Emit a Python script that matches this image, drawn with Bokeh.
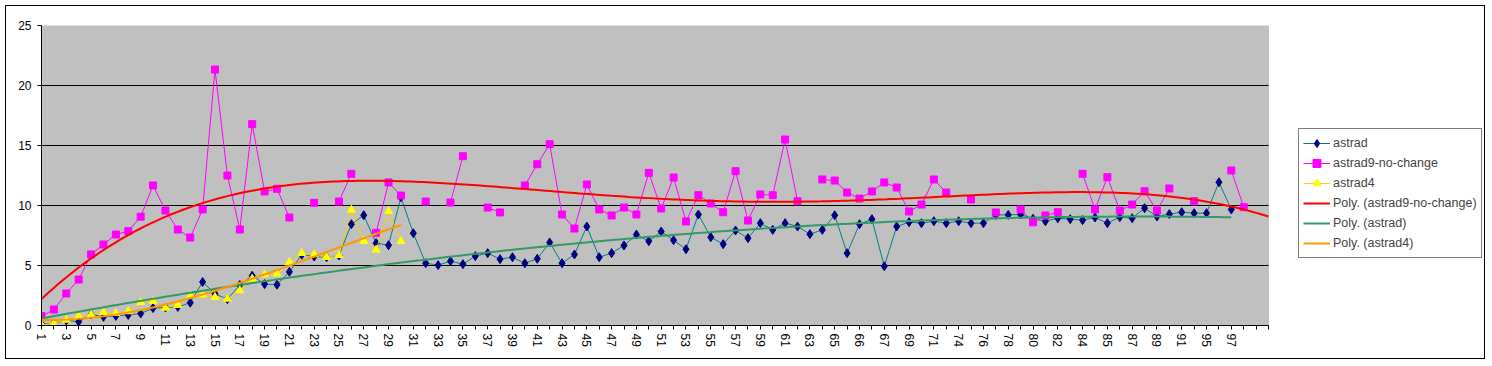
import numpy as np
from bokeh.plotting import figure
from bokeh.models import Range1d, FixedTicker, Legend, LegendItem, BoxAnnotation
from bokeh.embed import file_html
from bokeh.resources import INLINE

nan = float("nan")

# category labels (one per category slot, 100 slots)
categories = [str(k) for k in range(1, 64)] + [
    "64", "65", "65", "66", "66", "67", "68", "69", "70", "71", "73", "74", "75",
    "76", "77", "78", "79", "80", "81", "82", "83", "84", "84", "85", "86", "87",
    "88", "89", "90", "91", "93", "95", "96", "97", "98", "", ""]

astrad = [0.12, 0.18, 0.42, 0.32, 0.92, 0.72, 0.80, 0.88, 1.00, 1.45,
          1.50, 1.55, 1.90, 3.62, 2.64, 2.20, 3.38, 4.15, 3.45, 3.40,
          4.47, 5.90, 5.75, 5.69, 5.83, 8.44, 9.19, 6.86, 6.69, 10.69,
          7.69, 5.19, 5.03, 5.36, 5.11, 5.78, 6.03, 5.53, 5.69, 5.19,
          5.56, 6.92, 5.19, 5.92, 8.25, 5.69, 6.03, 6.67, 7.58, 7.03,
          7.83, 7.11, 6.36, 9.25, 7.36, 6.78, 7.92, 7.28, 8.53, 7.97,
          8.53, 8.25, 7.61, 7.97, 9.19, 6.03, 8.44, 8.86, 4.94, 8.25,
          8.61, 8.53, 8.69, 8.53, 8.69, 8.53, 8.53, 9.22, 9.22, 9.25,
          8.90, 8.69, 8.94, 8.86, 8.78, 9.00, 8.53, 9.03, 8.94, 9.78,
          9.08, 9.28, 9.44, 9.36, 9.36, 11.94, 9.67]

astrad9_no_change = [0.78, 1.33, 2.67, 3.83, 5.92, 6.75, 7.58, 7.86, 9.06, 11.67,
                     9.58, 8.00, 7.33, 9.67, 21.33, 12.50, 8.00, 16.78, 11.17, 11.39,
                     9.00, nan, 10.22, nan, 10.33, 12.64, nan, 7.72, 11.92, 10.83,
                     nan, 10.33, nan, 10.25, 14.11, nan, 9.83, 9.42, nan, 11.67,
                     13.44, 15.11, 9.25, 8.08, 11.75, 9.67, 9.17, 9.83, 9.25, 12.72,
                     9.75, 12.33, 8.67, 10.86, 10.17, 9.44, 12.86, 8.75, 10.92, 10.86,
                     15.50, 10.36, nan, 12.17, 12.08, 11.08, 10.58, 11.17, 11.92, 11.50,
                     9.50, 10.08, 12.17, 11.08, nan, 10.50, nan, 9.42, nan, 9.67,
                     8.60, 9.17, 9.44, nan, 12.64, 9.67, 12.36, 9.58, 10.08, 11.19,
                     9.58, 11.42, nan, 10.36, nan, nan, 12.92, 9.86, nan, nan]

astrad4 = [0.05, 0.19, 0.47, 0.78, 0.90, 1.11, 1.03, 1.17, 1.94, 2.03,
           1.47, 1.70, 2.50, 2.56, 2.36, 2.22, 2.92, 3.89, 4.25, 4.31,
           5.28, 6.03, 5.92, 5.69, 5.86, 9.64, 7.03, 6.31, 9.53, 7.03]

y_ticks = [0, 5, 10, 15, 20, 25]

FONT = "Liberation Sans"

n_cat = len(categories)
x_all = np.arange(n_cat)

# layout: plot area 1227 px wide for the categories, legend area to its right
W, H = 1480, 354
BL, BT, BB, BR = 35, 19, 35, 0
area_px = 1227
frame_w = W - BL - BR
x_end = (n_cat - 1) * frame_w / area_px

p = figure(width=W, height=H, x_range=Range1d(0, x_end), y_range=Range1d(0, 25),
           output_backend="svg", toolbar_location=None,
           min_border_left=BL, min_border_right=BR, min_border_top=BT, min_border_bottom=BB)
p.styles = {"border": "1px solid black", "margin": "5px 0px 0px 5px"}
p.background_fill_color = "white"
p.border_fill_color = "white"
p.outline_line_color = None

# gray plot area
p.add_layout(BoxAnnotation(left=0, right=n_cat - 1, bottom=y_ticks[0], top=y_ticks[-1],
                           fill_color="#C0C0C0", fill_alpha=1,
                           line_color="#808080", line_width=1, level="underlay"))

p.xgrid.visible = False
p.ygrid.visible = False
grid_y = y_ticks[1:-1]
p.segment(x0=[0] * len(grid_y), y0=grid_y, x1=[n_cat - 1] * len(grid_y), y1=grid_y,
          line_color="black", line_width=1)

p.yaxis.ticker = FixedTicker(ticks=y_ticks)
p.xaxis.ticker = FixedTicker(ticks=list(range(n_cat)))
p.xaxis.bounds = (0, n_cat - 1)
p.xaxis.major_label_overrides = {i: (categories[i] if i % 2 == 0 else "") for i in range(n_cat)}
p.xaxis.major_label_orientation = "vertical"
for ax in (p.xaxis, p.yaxis):
    ax.axis_line_color = "black"
    ax.major_tick_line_color = "black"
    ax.major_tick_in = 0
    ax.major_tick_out = 4
    ax.minor_tick_line_color = None
    ax.major_label_text_font = FONT
    ax.major_label_text_font_size = "12px"
    ax.major_label_text_color = "black"
p.xaxis.major_label_standoff = 4
p.yaxis.major_label_standoff = 6

# series
xa = x_all[:len(astrad)]
x9 = x_all[:len(astrad9_no_change)]
x4 = x_all[:len(astrad4)]

l1 = p.line(xa, astrad, line_color="#008080", line_width=1)
m1 = p.scatter(xa, astrad, marker="diamond", size=9, fill_color="#000080", line_color="#000080")
l2 = p.line(x9, astrad9_no_change, line_color="#FF00FF", line_width=1)
m2 = p.scatter(x9, astrad9_no_change, marker="square", size=7, fill_color="#FF00FF", line_color="#FF00FF")
l3 = p.line(x4, astrad4, line_color="#FFCC00", line_width=1)
m3 = p.scatter(x4, astrad4, marker="triangle", size=8, fill_color="#FFFF00", line_color="#FFFF00")

# polynomial trendlines fitted from the series
a9 = np.array(astrad9_no_change)
ok = ~np.isnan(a9)
c9 = np.polyfit(x9[ok], a9[ok], 4)
xt9 = np.linspace(0, n_cat - 1, 300)
t9 = p.line(xt9, np.polyval(c9, xt9), line_color="#FF0000", line_width=2)

ca = np.polyfit(xa, np.array(astrad), 2)
xta = np.linspace(0, len(astrad) - 1, 300)
ta = p.line(xta, np.polyval(ca, xta), line_color="#339966", line_width=2)

c4 = np.polyfit(x4, np.array(astrad4), 3)
xt4 = np.linspace(0, len(astrad4) - 1, 100)
t4 = p.line(xt4, np.polyval(c4, xt4), line_color="#FF9900", line_width=2)

legend = Legend(items=[
    LegendItem(label="astrad", renderers=[l1, m1]),
    LegendItem(label="astrad9-no-change", renderers=[l2, m2]),
    LegendItem(label="astrad4", renderers=[l3, m3]),
    LegendItem(label="Poly. (astrad9-no-change)", renderers=[t9]),
    LegendItem(label="Poly. (astrad)", renderers=[ta]),
    LegendItem(label="Poly. (astrad4)", renderers=[t4]),
], location=(area_px + 30, 67))
legend.border_line_color = "black"
legend.border_line_width = 1
legend.background_fill_color = "white"
legend.background_fill_alpha = 1
legend.label_text_font = FONT
legend.label_text_font_size = "12.5px"
legend.glyph_width = 27
legend.glyph_height = 20
legend.label_height = 20
legend.spacing = 0
legend.padding = 4
legend.margin = 0
legend.label_standoff = 3
p.add_layout(legend, "center")

open("out.html", "w").write(file_html(p, INLINE))
